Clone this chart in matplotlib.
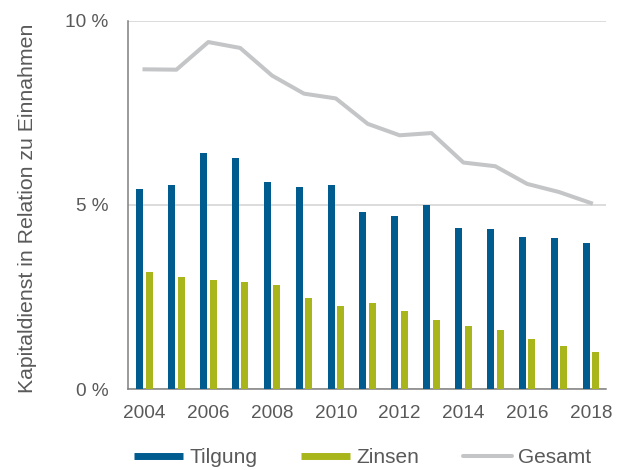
import matplotlib.pyplot as plt
from matplotlib.lines import Line2D
import numpy as np

years = list(range(2004, 2019))
tilgung = [5.43, 5.55, 6.40, 6.28, 5.61, 5.48, 5.55, 4.80, 4.69, 5.01, 4.37, 4.34, 4.12, 4.10, 3.97]
zinsen = [3.19, 3.04, 2.95, 2.92, 2.83, 2.47, 2.26, 2.34, 2.12, 1.88, 1.71, 1.61, 1.36, 1.16, 1.00]
gesamt = [8.68, 8.67, 9.42, 9.26, 8.51, 8.02, 7.89, 7.20, 6.89, 6.95, 6.15, 6.05, 5.57, 5.35, 5.05]
yticks = [0, 5, 10]

c_blue = '#005b8e'
c_green = '#a8b51b'
c_gray = '#c3c5c7'
c_text = '#595959'

plt.rcParams['font.family'] = ['Liberation Sans', 'DejaVu Sans']

fig = plt.figure(figsize=(6.18, 4.7), dpi=100)
ax = fig.add_axes([0.207, 0.172, 0.774, 0.784])

x = np.arange(len(years))
w = 0.22
ax.bar(x - 0.149, tilgung, width=w, color=c_blue, zorder=3)
ax.bar(x + 0.149, zinsen, width=w, color=c_green, zorder=3)
ax.plot(x, gesamt, color=c_gray, lw=2.9, solid_joinstyle='round', zorder=4)

ax.set_xlim(-0.52, 14.48)
ax.set_ylim(0, 10)
ax.set_yticks(yticks)
ax.set_yticklabels([f'{v} %' for v in yticks])
ax.set_xticks(x[::2])
ax.set_xticklabels([str(y) for y in years[::2]])
ax.tick_params(length=0, labelsize=13.7, colors=c_text)
ax.tick_params(axis='x', pad=11.5)
ax.tick_params(axis='y', pad=14)

ax.grid(axis='y', color='#d9d9d9', lw=1.3, zorder=0)
for s in ['top', 'right']:
    ax.spines[s].set_visible(False)
for s in ['left', 'bottom']:
    ax.spines[s].set_color('#7f7f7f')
    ax.spines[s].set_linewidth(1.1)

ax.set_ylabel('Kapitaldienst in Relation zu Einnahmen', fontsize=15.3, color=c_text)
ax.yaxis.set_label_coords(-0.19, 0.49)

handles = [
    Line2D([], [], color=c_blue, lw=5, solid_capstyle='butt'),
    Line2D([], [], color=c_green, lw=5, solid_capstyle='butt'),
    Line2D([], [], color=c_gray, lw=2.9, solid_capstyle='round'),
]
fig.legend(handles, ['Tilgung', 'Zinsen', 'Gesamt'], loc='center', ncol=3,
           bbox_to_anchor=(0.587, 0.026), frameon=False, fontsize=15,
           handlelength=2.35, handletextpad=0.3, columnspacing=2.1,
           labelcolor=c_text, borderpad=0, borderaxespad=0)

fig.savefig('out.png', dpi=100)
